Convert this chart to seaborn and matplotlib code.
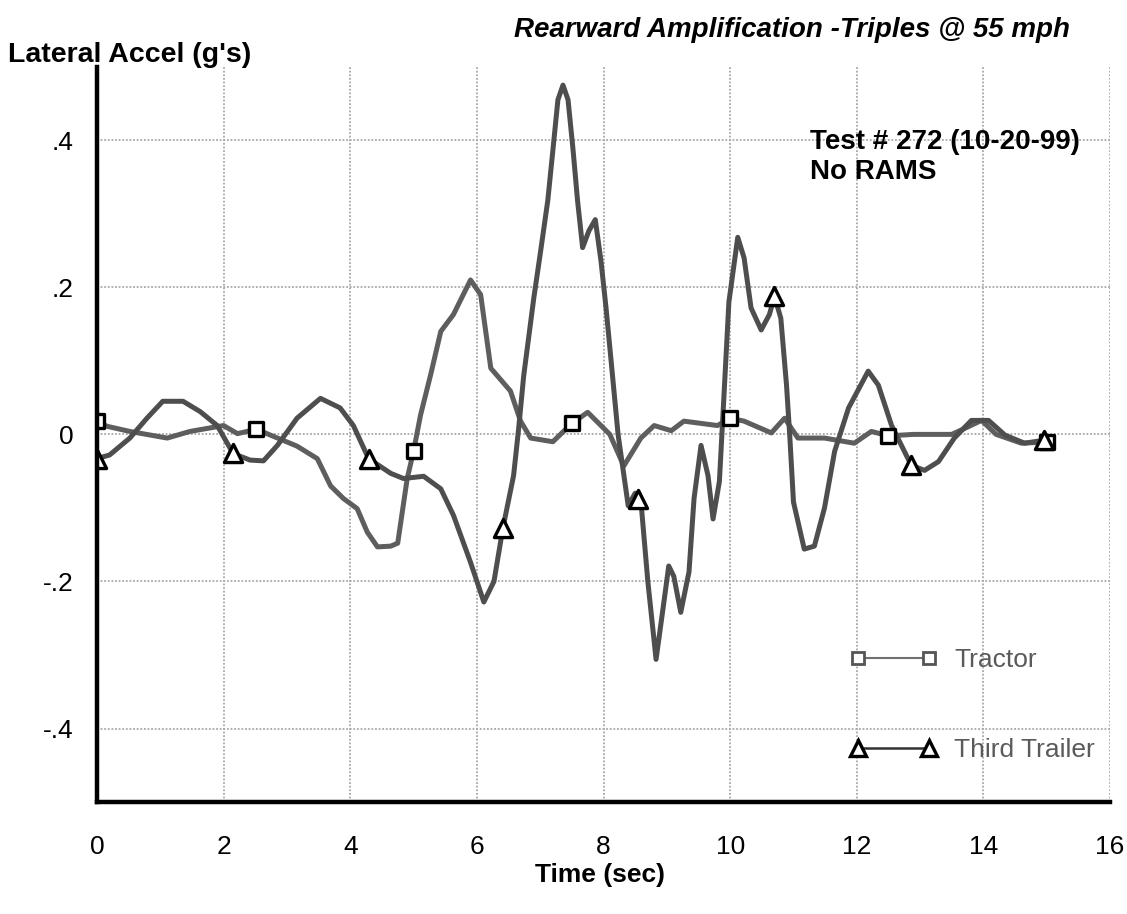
# Rearward amplification - lateral acceleration traces
import numpy as np
import pandas as pd
import matplotlib
matplotlib.use('Agg')
import matplotlib.pyplot as plt
from matplotlib.lines import Line2D
from matplotlib.ticker import MultipleLocator
import seaborn as sns

# --- data ---
tractor_t = [0.0, 0.16, 0.52, 1.11, 1.47, 2.0, 2.22, 2.52, 2.74, 3.16,
             3.48, 3.69, 3.89, 4.11, 4.27, 4.43, 4.64, 4.75, 4.9, 5.0,
             5.11, 5.27, 5.43, 5.63, 5.9, 6.06, 6.22, 6.53, 6.69, 6.85,
             7.2, 7.5, 7.75, 8.1, 8.32, 8.59, 8.8, 9.07, 9.27, 9.8,
             10.0, 10.22, 10.65, 10.86, 11.07, 11.49, 11.96, 12.23, 12.5, 12.9,
             13.5, 13.75, 13.97, 14.2, 14.6, 15.1]
tractor_g = [0.018, 0.011, 0.004, -0.005, 0.004, 0.012, 0.001, 0.007, -0.001, -0.016,
             -0.033, -0.070, -0.087, -0.101, -0.133, -0.153, -0.152, -0.148, -0.06, -0.023,
             0.026, 0.081, 0.14, 0.163, 0.21, 0.19, 0.09, 0.059, 0.018, -0.005,
             -0.01, 0.015, 0.03, 0.0, -0.043, -0.005, 0.012, 0.005, 0.018, 0.012,
             0.022, 0.018, 0.002, 0.022, -0.005, -0.005, -0.012, 0.004, -0.002, 0.0,
             0.0, 0.01, 0.019, 0.0, -0.012, -0.01]

trailer_t = [0.0, 0.2, 0.52, 0.79, 1.04, 1.36, 1.63, 1.9, 2.15, 2.42,
             2.63, 2.85, 3.16, 3.53, 3.84, 4.05, 4.29, 4.64, 4.84, 5.16,
             5.43, 5.63, 5.9, 6.11, 6.27, 6.41, 6.58, 6.66, 6.74, 6.9,
             7.0, 7.12, 7.2, 7.28, 7.36, 7.44, 7.52, 7.59, 7.67, 7.77,
             7.87, 7.96, 8.04, 8.12, 8.23, 8.39, 8.5, 8.6, 8.7, 8.83,
             8.96, 9.03, 9.11, 9.22, 9.35, 9.43, 9.54, 9.65, 9.73, 9.83,
             9.9, 9.98, 10.12, 10.22, 10.33, 10.49, 10.62, 10.7, 10.8, 10.89,
             10.94, 11.0, 11.17, 11.33, 11.49, 11.65, 11.87, 12.18, 12.34, 12.55,
             12.86, 13.07, 13.29, 13.54, 13.81, 14.08, 14.34, 14.65, 14.95]
trailer_g = [-0.033, -0.028, -0.005, 0.022, 0.045, 0.045, 0.031, 0.012, -0.026, -0.035,
             -0.036, -0.015, 0.022, 0.049, 0.036, 0.012, -0.033, -0.053, -0.06, -0.057,
             -0.074, -0.11, -0.174, -0.228, -0.2, -0.128, -0.056, 0.008, 0.08, 0.186,
             0.245, 0.318, 0.386, 0.455, 0.475, 0.455, 0.386, 0.318, 0.254, 0.277,
             0.292, 0.236, 0.172, 0.1, 0.0, -0.097, -0.08, -0.1, -0.2, -0.306,
             -0.224, -0.179, -0.193, -0.242, -0.187, -0.087, -0.015, -0.056, -0.115, -0.064,
             0.049, 0.18, 0.268, 0.24, 0.172, 0.142, 0.163, 0.188, 0.158, 0.067,
             0.0, -0.092, -0.156, -0.152, -0.1, -0.023, 0.036, 0.086, 0.067, 0.012,
             -0.042, -0.049, -0.037, -0.005, 0.019, 0.019, -0.001, -0.012, -0.008]

# marker positions along each trace (seconds)
tractor_mark_t = [0.0, 2.52, 5.0, 7.5, 10.0, 12.5, 15.0]
trailer_mark_t = [0.0, 2.15, 4.29, 6.41, 8.54, 10.7, 12.86, 14.95]

x_ticks = [0, 2, 4, 6, 8, 10, 12, 14, 16]
y_ticks = [-0.4, -0.2, 0.0, 0.2, 0.4]
y_labels = ['-.4', '-.2', '0', '.2', '.4']

tractor = pd.DataFrame({'time': tractor_t, 'accel': tractor_g})
trailer = pd.DataFrame({'time': trailer_t, 'accel': trailer_g})
tractor_marks = pd.DataFrame({'time': tractor_mark_t,
                              'accel': np.interp(tractor_mark_t, tractor_t, tractor_g)})
trailer_marks = pd.DataFrame({'time': trailer_mark_t,
                              'accel': np.interp(trailer_mark_t, trailer_t, trailer_g)})

sns.set_style('white')
plt.rcParams['font.family'] = ['Liberation Sans', 'DejaVu Sans']
plt.rcParams['text.color'] = 'black'
plt.rcParams['xtick.color'] = 'black'
plt.rcParams['ytick.color'] = 'black'

fig = plt.figure(figsize=(11.27, 9.14), dpi=100)
ax = fig.add_axes([0.086, 0.1225, 0.899, 0.8045])

line_col = '#5e5e5e'
sns.lineplot(data=tractor, x='time', y='accel', ax=ax, color=line_col, lw=3.6,
             sort=False, zorder=3)
sns.lineplot(data=trailer, x='time', y='accel', ax=ax, color='#4e4e4e', lw=3.6,
             sort=False, zorder=3)
sns.scatterplot(data=tractor_marks, x='time', y='accel', ax=ax, marker='s', s=110,
                facecolor='white', edgecolor='black', linewidth=2.4, zorder=5)
sns.scatterplot(data=trailer_marks, x='time', y='accel', ax=ax, marker='^', s=170,
                facecolor='white', edgecolor='black', linewidth=2.4, zorder=5)

ax.set_xlim(0, 16)
ax.set_ylim(-0.5, 0.5)
ax.set_xticks(x_ticks)
ax.set_yticks(y_ticks)
ax.set_yticklabels(y_labels)
ax.xaxis.set_minor_locator(MultipleLocator(1))
ax.yaxis.set_minor_locator(MultipleLocator(0.1))
ax.tick_params(which='major', direction='inout', length=10, width=2, labelsize=19,
               pad=12, labelcolor='black')
ax.tick_params(axis='x', which='major', pad=19)
ax.tick_params(which='minor', direction='in', length=4, width=2)
ax.grid(True, which='major', color='#a8a8a8', lw=1.3, ls=(0, (1, 1)), zorder=0)

for side in ['top', 'right']:
    ax.spines[side].set_visible(False)
for side in ['left', 'bottom']:
    ax.spines[side].set_linewidth(3.2)
    ax.spines[side].set_color('black')
    ax.spines[side].set_zorder(6)

ax.set_xlabel('')
ax.set_ylabel('')

fig.text(8 / 1127, 1 - 55 / 914, "Lateral Accel (g's)", fontsize=20.5, fontweight='bold',
         ha='left', va='center')
fig.text(1070 / 1127, 1 - 30 / 914, 'Rearward Amplification -Triples @ 55 mph',
         fontsize=20, fontweight='bold', style='italic', ha='right', va='center')
fig.text(600 / 1127, 1 - 875 / 914, 'Time (sec)', fontsize=19, fontweight='bold',
         ha='center', va='center')
ax.text(810 / 1127, 1 - 157 / 914, 'Test # 272 (10-20-99)\nNo RAMS', transform=fig.transFigure,
        fontsize=20, fontweight='bold', ha='left', va='center', linespacing=1.2, zorder=7)

handles = [
    Line2D([], [], color='#707070', lw=1.5, marker='s', markersize=9, markerfacecolor='white',
           markeredgecolor='#555555', markeredgewidth=2),
    Line2D([], [], color='#333333', lw=1.8, marker='^', markersize=11, markerfacecolor='white',
           markeredgecolor='black', markeredgewidth=2.4),
]
leg = ax.legend(handles, ['Tractor', 'Third Trailer'], loc='center left',
                bbox_to_anchor=(842 / 1127, 1 - 705 / 914), bbox_transform=fig.transFigure,
                frameon=False, fontsize=19, numpoints=2, handlelength=3.3,
                handletextpad=0.65, labelspacing=2.5, borderaxespad=0, borderpad=0.3)
for txt in leg.get_texts():
    txt.set_color('#5a5a5a')

plt.savefig('out.png', dpi=100)
